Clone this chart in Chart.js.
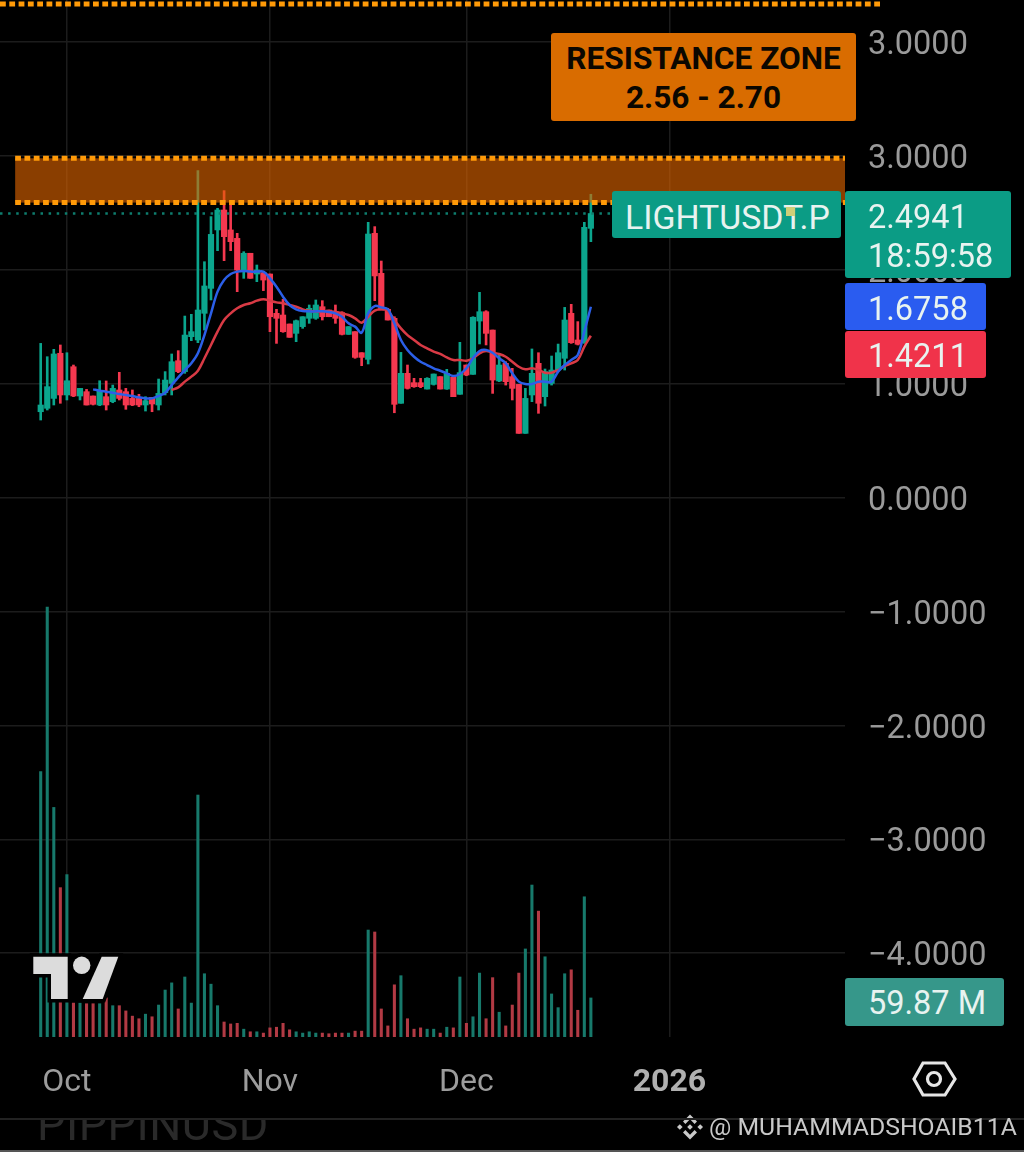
<!DOCTYPE html>
<html><head><meta charset="utf-8">
<script src="https://cdn.jsdelivr.net/npm/chart.js@4"></script>
<style>
html,body{margin:0;padding:0;background:#000;width:1024px;height:1152px;overflow:hidden;font-family:Roboto,sans-serif}
#wrap{position:relative;width:1024px;height:1152px;overflow:hidden}
canvas{position:absolute;left:0;top:0}
.box{position:absolute;box-sizing:border-box;border-radius:3px;color:#e8f3f0;font-size:32.5px;line-height:47px;white-space:pre}
svg{position:absolute;overflow:visible}
</style></head><body>
<div id="wrap">
<canvas id="c" width="1024" height="1152"></canvas>
<svg style="left:0;top:0" width="1024" height="1152">
  <g fill="#dcdcdc" stroke="#000" stroke-width="7" paint-order="stroke">
    <path d="M33.3 956.7H67.7V999H51V974H33.3Z"/><circle cx="81.7" cy="965.3" r="8.7"/><path d="M101.7 956.7H118.3L102.7 999H82.7Z"/>
  </g>
  <g fill="none" stroke="#e6e6e6" stroke-width="3.2">
    <path d="M923 1063H945L955 1079L945 1095H923L914 1079Z"/><circle cx="934" cy="1079" r="6.5"/>
  </g>
  <g fill="#c9c9c9" transform="translate(690 1127)">
    <path d="M0-12.5L7-5.5L4.6-3.1L0-7.7L-4.6-3.1L-7-5.5Z"/><path d="M0 12.5L7 5.5L4.6 3.1L0 7.7L-4.6 3.1L-7 5.5Z"/>
    <path d="M-13 0L-10.2-2.8L-7.4 0L-10.2 2.8Z"/><path d="M13 0L10.2-2.8L7.4 0L10.2 2.8Z"/><path d="M0-2.8L2.8 0L0 2.8L-2.8 0Z"/>
  </g>
</svg>
<div class="box" style="left:551px;top:33px;width:305px;height:88px;background:#d96c00;color:#0b0700;font-weight:700;font-size:31.6px;line-height:39px;text-align:center;padding-top:6px">RESISTANCE ZONE
2.56 - 2.70</div>
<div class="box" style="left:612px;top:191px;width:229px;height:47px;background:#0b9c85;padding:3px 0 0 13px;font-size:33.8px">LIGHTUSDT.P</div>
<div style="position:absolute;left:786px;top:207px;width:9px;height:9px;background:#cfcf78"></div>
<div class="box" style="left:845px;top:191px;width:166px;height:87px;background:#0b9c85;padding:7px 0 0 23px;line-height:39px">2.4941
18:59:58</div>
<div class="box" style="left:845px;top:283px;width:141px;height:47px;background:#2a5cf0;padding:3px 0 0 23px">1.6758</div>
<div class="box" style="left:845px;top:331px;width:141px;height:47px;background:#f0334a;padding:2px 0 0 23px">1.4211</div>
<div class="box" style="left:845px;top:978px;width:159px;height:48px;background:#36978a;padding:2px 0 0 23px">59.87 M</div>
<div style="position:absolute;left:37px;top:1119px;height:31px;overflow:hidden;color:#2a2a2a;font-size:45px;line-height:30px;letter-spacing:0.5px"><span style="position:relative;top:-9px">PIPPINUSD</span></div>
<div style="position:absolute;left:0;top:1118px;width:1024px;height:2px;background:#222"></div>
<div style="position:absolute;left:0;top:1150px;width:1024px;height:2px;background:#555"></div>
<div style="position:absolute;left:709px;top:1113px;color:#c8c8c8;font-size:24.8px;line-height:28px;white-space:nowrap">@ MUHAMMADSHOAIB11A</div>
</div>
<script>
const dayIndex = Array.from({length:85},(_,i)=>i); // daily candles, 27 Sep to 20 Dec
const monthTickIndex = [4,35,65,96];
const monthTickLabels = ['Oct','Nov','Dec','2026'];
const priceTicks = [4,3,2,1,0,-1,-2,-3,-4];
const priceTickLabels = ['3.0000','3.0000','2.0000','1.0000','0.0000','\u22121.0000','\u22122.0000','\u22123.0000','\u22124.0000'];

const open  = [.754,.784,.871,1.267,.901,1.149,.892,.930,.892,.813,.886,.842,.945,.930,.871,.871,.813,.880,.813,.921,1.003,1.202,1.106,1.413,1.384,1.618,1.837,2.350,2.525,2.350,2.276,1.984,2.145,1.963,1.975,1.963,1.618,1.603,1.524,1.442,1.501,1.574,1.574,
  1.676,1.647,1.632,1.624,1.433,1.457,1.272,1.214,2.320,1.969,1.653,1.574,.828,1.091,1.009,1.009,.953,.994,1.062,.953,1.056,.907,1.164,1.082,1.550,1.632,1.471,1.024,1.179,1.062,.994,.564,.901,1.179,.886,1.003,1.120,1.223,1.618,1.384,1.369,2.364];
const close = [.813,.974,1.261,.901,1.026,.892,.959,.813,.819,.939,.813,.959,.871,.813,.813,.813,.851,.822,.915,1.032,1.193,1.106,1.427,1.457,1.647,1.858,2.311,2.525,2.291,2.247,1.998,2.145,1.925,1.998,1.910,1.588,1.574,1.457,1.407,1.553,1.588,1.662,1.691,
  1.588,1.588,1.574,1.433,1.501,1.231,1.231,2.314,1.946,1.647,1.559,.819,1.091,.959,.974,.974,1.047,1.085,.953,1.091,.886,1.097,1.076,1.583,1.632,1.442,1.032,1.164,1.018,.959,.564,.871,1.091,.828,1.106,1.120,1.272,1.559,1.360,1.346,2.373,2.4941];
const high  = [1.354,1.237,1.302,1.340,1.272,1.164,.959,.950,.892,1.026,1.024,.988,1.100,.959,.945,.907,.886,.880,1.041,1.106,1.261,1.290,1.594,1.609,2.871,2.071,2.467,2.540,2.695,2.569,2.320,2.159,2.145,2.042,1.984,1.963,1.653,1.741,1.524,1.559,1.588,1.691,1.735,
  1.729,1.647,1.691,1.632,1.501,1.457,1.272,2.417,2.379,2.077,1.662,1.588,1.275,1.164,1.047,1.047,1.053,1.085,1.062,1.126,1.056,1.363,1.164,1.588,1.802,1.641,1.471,1.261,1.193,1.135,.994,.959,1.305,1.272,1.129,1.243,1.348,1.670,1.697,1.545,2.417,2.663];
const low   = [.681,.769,.813,.828,.857,.886,.857,.813,.813,.807,.769,.833,.857,.775,.807,.798,.760,.754,.769,.901,.901,1.097,1.091,1.378,1.360,1.471,1.735,2.168,2.080,2.168,1.808,1.925,1.925,1.896,1.817,1.457,1.354,1.451,1.407,1.369,1.486,1.530,1.565,
  1.559,1.588,1.530,1.428,1.433,1.223,1.158,1.173,1.729,1.676,1.559,.745,.828,.953,.968,.965,.953,.988,.953,.950,.886,.907,1.070,1.082,1.349,1.340,.915,1.018,.988,.857,.564,.564,.842,.740,.804,.988,1.120,1.120,1.354,1.340,1.354,2.247];
const volumeM = [407,659,352,229,249,52,52,51,51,51,60,48,48,40,32,28,35,31,49,72,83,43,92,52,371,97,81,48,23,20,21,12,8,8,6,14,15,21,11,8,6,8,6,
  6,5,6,6,6,9,9,164,161,43,17,80,94,28,12,14,12,12,6,15,14,92,21,31,98,28,91,38,17,49,98,135,233,193,123,66,45,97,103,41,215,59.87];
const emaFast = [null,null,null,null,null,null,null,null,.950,.939,.930,.921,.909,.901,.892,.880,.871,.871,.892,.921,.988,1.056,1.120,1.179,1.267,1.427,1.618,1.808,1.910,1.963,1.984,1.990,1.984,1.984,1.984,1.925,1.852,1.764,1.691,1.653,1.638,1.635,1.635,
  1.635,1.629,1.618,1.588,1.530,1.501,1.448,1.618,1.682,1.670,1.653,1.530,1.384,1.296,1.237,1.193,1.164,1.135,1.114,1.091,1.067,1.085,1.135,1.223,1.287,1.296,1.272,1.223,1.179,1.091,1.018,.997,.997,1.018,1.018,1.018,1.106,1.164,1.208,1.252,1.457,1.6758];
const emaSlow = [null,null,null,null,null,null,null,null,null,null,null,null,null,null,null,null,null,null,null,null,.945,.968,1.018,1.062,1.114,1.223,1.340,1.457,1.559,1.618,1.662,1.691,1.706,1.729,1.741,1.729,1.714,1.706,1.691,1.676,1.653,1.641,1.635,
  1.635,1.635,1.629,1.618,1.603,1.574,1.536,1.588,1.641,1.653,1.641,1.559,1.486,1.427,1.384,1.340,1.310,1.281,1.261,1.231,1.208,1.208,1.202,1.223,1.267,1.287,1.272,1.261,1.237,1.193,1.149,1.126,1.135,1.120,1.097,1.097,1.120,1.155,1.179,1.208,1.325,1.4211];
const zoneLow = 2.59, zoneHigh = 2.979, upperLine = 4.334, lastPrice = 2.4941;

const GREEN='#0ba58d', RED='#f4384f', VGREEN='#17796b', VRED='#b23a44';
const isUp = i => close[i] >= open[i];
const pts = (a,b) => dayIndex.map(i => ({x:i, y:b ? [a[i],b[i]] : a[i]}));
const candleColor = dayIndex.map(i => isUp(i)?GREEN:RED);
const volColor = dayIndex.map(i => isUp(i)?VGREEN:VRED);

const overlay = {
  id:'overlay',
  afterDatasetsDraw(ch){
    const c=ch.ctx, y=ch.scales.y, x=ch.scales.x, a=ch.chartArea;
    const top=y.getPixelForValue(zoneHigh), bot=y.getPixelForValue(zoneLow), up=y.getPixelForValue(upperLine), last=y.getPixelForValue(lastPrice);
    const zl=x.getPixelForValue(-3.9);
    c.save();
    c.fillStyle='rgba(222,100,0,.62)';
    c.fillRect(zl,top,a.right-zl,bot-top);
    c.strokeStyle='#ff9a08'; c.lineWidth=5; c.setLineDash([5.8,3.5]);
    [[top,zl,a.right],[bot,zl,a.right],[up,0,881]].forEach(([py,l,r])=>{c.beginPath();c.moveTo(l,py);c.lineTo(r,py);c.stroke();});
    c.strokeStyle='#0e7d6e'; c.lineWidth=2.5; c.setLineDash([2.5,5.6]);
    c.beginPath();c.moveTo(0,last);c.lineTo(612,last);c.stroke();
    c.restore();
  }
};

new Chart(document.getElementById('c'),{
  type:'bar',
  plugins:[overlay],
  data:{datasets:[
    {type:'line',data:pts(emaFast),borderColor:'#2b5fe8',borderWidth:2.5,pointRadius:0,tension:.35,order:1,spanGaps:false},
    {type:'line',data:pts(emaSlow),borderColor:'#d93a45',borderWidth:2.5,pointRadius:0,tension:.35,order:2,spanGaps:false},
    {data:pts(open,close),backgroundColor:candleColor,barThickness:5.5,order:3,yAxisID:'y',minBarLength:2},
    {data:pts(low,high),backgroundColor:candleColor,barThickness:2,order:4,yAxisID:'y'},
    {data:pts(volumeM),backgroundColor:volColor,barThickness:2.4,order:5,yAxisID:'vol'}
  ]},
  options:{
    responsive:false,animation:false,devicePixelRatio:1,
    layout:{padding:0},
    plugins:{legend:{display:false},tooltip:{enabled:false}},
    datasets:{bar:{grouped:false}},
    scales:{
      x:{type:'linear',min:-6.214,max:122.8,offset:false,
        border:{display:false},
        grid:{color:'#1c1c1c',lineWidth:1.5,drawTicks:false,offset:false},
        afterBuildTicks:s=>{s.ticks=monthTickIndex.map(v=>({value:v}));},
        afterFit:s=>{s.height=115;s.paddingLeft=0;s.paddingRight=0;},
        ticks:{autoSkip:false,maxRotation:0,padding:27,
          callback:v=>monthTickLabels[monthTickIndex.indexOf(v)],
          color:c=>c.index===3?'#b0b0b0':'#9c9c9c',
          font:c=>({family:'Roboto',size:32,weight:c.index===3?'700':'400'})}
      },
      y:{type:'linear',position:'right',min:-4.7357,max:4.3687,
        border:{display:false},
        grid:{color:'#1c1c1c',lineWidth:1.5,drawTicks:false},
        afterBuildTicks:s=>{s.ticks=priceTicks.map(v=>({value:v}));},
        afterFit:s=>{s.width=179;s.paddingTop=0;s.paddingBottom=0;},
        ticks:{autoSkip:false,padding:23,labelOffset:4,color:'#9a9a9a',font:{family:'Roboto',size:32.5},
          callback:v=>priceTickLabels[priceTicks.indexOf(v)]}
      },
      vol:{type:'linear',display:false,min:0,max:1590}
    }
  }
});
</script>
</body></html>
